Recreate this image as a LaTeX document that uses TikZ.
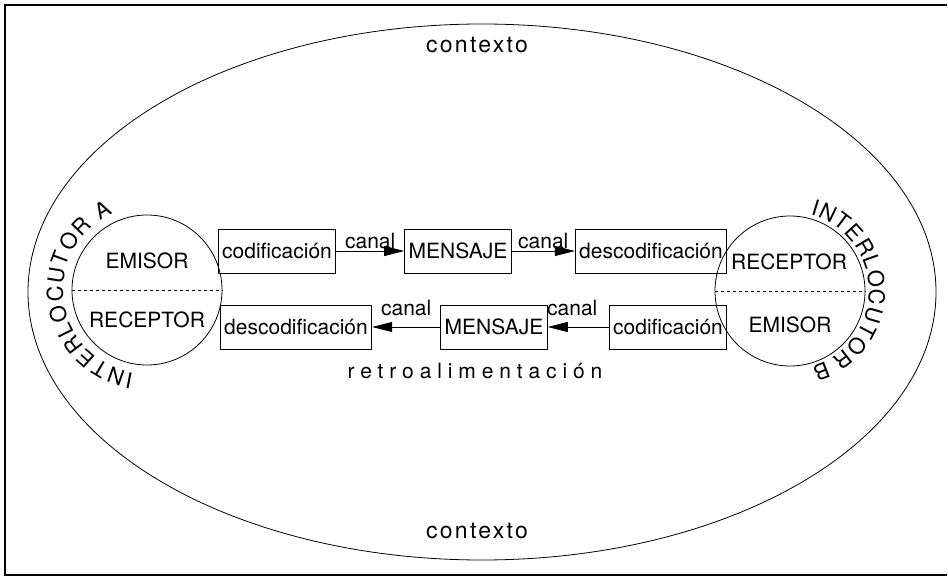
\documentclass[tikz,border=0pt]{standalone}
\usepackage{fontspec}
\setmainfont{TeX Gyre Heros}
\newfontfamily\ctxfont[LetterSpace=10]{TeX Gyre Heros}
\newfontfamily\retrofont[LetterSpace=28]{TeX Gyre Heros}
\usetikzlibrary{arrows.meta, decorations.text}

\begin{document}
\begin{tikzpicture}[x=1pt, y=1pt, font=\fontsize{21}{25}\selectfont]
\tikzset{mybox/.style={draw, line width=0.8pt, inner xsep=4pt, inner ysep=0pt, minimum height=44pt, align=center} }
\tikzset{mycircle/.style={circle, draw, line width=0.8pt, minimum size=150pt, inner sep=0pt} }
\tikzset{canal/.style={above, inner sep=1.5pt} }
\tikzset{>={Triangle[length=20pt, width=10pt]}}
\useasboundingbox (0,0) rectangle (948,-577);
\draw[line width=1.6pt] (947,-5) -- (5,-5) -- (5,-575) -- (947,-575);
\draw[line width=0.8pt] (482,-292) ellipse [x radius=454, y radius=268];
\node[mycircle] (intA) at (147,-290) {};
\node[mycircle] (intB) at (790,-291) {};
\draw[dashed, line width=0.8pt] (intA.west) -- (intA.east);
\draw[dashed, line width=0.8pt] (intB.west) -- (intB.east);
\node (emisorA) at (147,-261) {EMISOR};
\node (receptorA) at (147,-320) {RECEPTOR};
\node (receptorB) at (789,-262) {RECEPTOR};
\node (emisorB) at (790,-325) {EMISOR};
\node[mybox] (cod1) at (277,-251) {codificación};
\node[mybox] (men1) at (458,-251) {MENSAJE};
\node[mybox] (des1) at (651,-251) {descodificación};
\node[mybox] (cod2) at (668,-327) {codificación};
\node[mybox] (men2) at (494,-327) {MENSAJE};
\node[mybox] (des2) at (296,-327) {descodificación};
\path[->, line width=0.8pt] (cod1) edge node[canal] {canal} (men1);
\path[->, line width=0.8pt] (men1) edge node[canal] {canal} (des1);
\path[->, line width=0.8pt] (cod2) edge node[canal, yshift=9pt, xshift=-6pt] {canal} (men2);
\path[->, line width=0.8pt] (men2) edge node[canal, yshift=9pt] {canal} (des2);
\node[anchor=base, font=\fontsize{23}{27}\ctxfont] (ctxtop) at (477,-53) {contexto};
\node[anchor=base, font=\fontsize{23}{27}\ctxfont] (ctxbot) at (477,-538) {contexto};
\node[anchor=base, font=\fontsize{21}{25}\retrofont] (retro) at (475,-378) {retroalimentación};
\path[decorate, decoration={text along path, text align=fit to path,
  text={|\fontsize{22}{26}\selectfont|INTERLOCUTOR A}}]
  (intA.center) ++(-99:84) arc[start angle=-99, end angle=-246, radius=84];
\path[decorate, decoration={text along path, text align=fit to path,
  text={|\fontsize{22}{26}\selectfont|INTERLOCUTOR B}}]
  (intB.center) ++(75:79) arc[start angle=75, end angle=-74, radius=79];
\end{tikzpicture}
\end{document}
